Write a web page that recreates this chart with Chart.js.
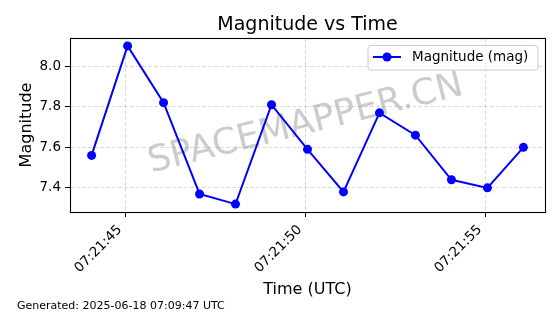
<!DOCTYPE html>
<html>
<head>
<meta charset="utf-8">
<script src="https://cdn.jsdelivr.net/npm/chart.js@4/dist/chart.umd.min.js"></script>
<style>
  html, body { margin: 0; padding: 0; background: #fff; }
  #wrap { width: 560px; height: 314px; position: relative; }
</style>
</head>
<body>
<div id="wrap"><canvas id="myChart" width="560" height="314"></canvas></div>
<script>
// readings
var times = ['07:21:44.045', '07:21:45.045', '07:21:46.045', '07:21:47.045', '07:21:48.045',
             '07:21:49.045', '07:21:50.045', '07:21:51.045', '07:21:52.045', '07:21:53.045',
             '07:21:54.045', '07:21:55.045', '07:21:56.045'];
var magnitudes = [7.56, 8.10, 7.82, 7.37, 7.32, 7.81, 7.59, 7.38, 7.77, 7.66, 7.44, 7.40, 7.60];
var xTickLabels = ['07:21:45', '07:21:50', '07:21:55'];
var yTicks = [7.4, 7.6, 7.8, 8.0];

var FONT = "'DejaVu Sans', sans-serif";

function toSec(s) {
  var p = s.split(':');
  return (+p[0]) * 3600 + (+p[1]) * 60 + parseFloat(p[2]);
}
function fmt(sec) {
  sec = Math.round(sec);
  var h = Math.floor(sec / 3600), m = Math.floor(sec / 60) % 60, s = sec % 60;
  return [h, m, s].map(function (v) { return (v < 10 ? '0' : '') + v; }).join(':');
}

var xs = times.map(toSec);
var xTicks = xTickLabels.map(toSec);
var points = xs.map(function (x, i) { return { x: x, y: magnitudes[i] }; });

// matplotlib style 5% margins
function margins(arr) {
  var lo = Math.min.apply(null, arr), hi = Math.max.apply(null, arr), pad = (hi - lo) * 0.05;
  return [lo - pad, hi + pad];
}
var xr = margins(xs), yr = margins(magnitudes);

var extras = {
  id: 'extras',
  beforeDatasetsDraw: function (chart) {
    var ctx = chart.ctx;
    // watermark
    ctx.save();
    ctx.translate(308, 133.5);
    ctx.rotate(-14 * Math.PI / 180);
    ctx.font = '36px ' + FONT;
    ctx.fillStyle = 'rgba(128,128,128,0.4)';
    ctx.textAlign = 'center';
    ctx.textBaseline = 'alphabetic';
    ctx.fillText('SPACEMAPPER.CN', 0, 0);
    ctx.restore();
  },
  afterDatasetsDraw: function (chart) {
    var ctx = chart.ctx, a = chart.chartArea;
    ctx.save();
    // frame
    ctx.strokeStyle = '#000';
    ctx.lineWidth = 1.1;
    ctx.strokeRect(a.left + 0.5, a.top + 0.5, a.right - a.left, a.bottom - a.top);

    // legend
    var lx = a.right - 177, ly = a.top + 7.5, lw = 170, lh = 24.5;
    ctx.beginPath();
    ctx.roundRect(lx, ly, lw, lh, 3);
    ctx.fillStyle = 'rgba(255,255,255,0.8)';
    ctx.fill();
    ctx.strokeStyle = '#cccccc';
    ctx.lineWidth = 1;
    ctx.stroke();
    var my = ly + 11.5;
    ctx.beginPath();
    ctx.moveTo(lx + 5, my);
    ctx.lineTo(lx + 33, my);
    ctx.strokeStyle = '#0000ff';
    ctx.lineWidth = 2;
    ctx.stroke();
    ctx.beginPath();
    ctx.arc(lx + 19, my, 4.5, 0, Math.PI * 2);
    ctx.fillStyle = '#0000ff';
    ctx.fill();
    ctx.fillStyle = '#000';
    ctx.font = '13.5px ' + FONT;
    ctx.textAlign = 'left';
    ctx.textBaseline = 'middle';
    ctx.fillText('Magnitude (mag)', lx + 44, my + 0.5);

    // titles
    var cx = (a.left + a.right) / 2;
    ctx.textAlign = 'center';
    ctx.textBaseline = 'alphabetic';
    ctx.font = '19px ' + FONT;
    ctx.fillText('Magnitude vs Time', cx, 30);
    ctx.font = '16px ' + FONT;
    ctx.fillText('Time (UTC)', cx, 294);
    ctx.save();
    ctx.translate(31, (a.top + a.bottom) / 2);
    ctx.rotate(-Math.PI / 2);
    ctx.fillText('Magnitude', 0, 0);
    ctx.restore();
    ctx.textAlign = 'left';
    ctx.font = '11px ' + FONT;
    ctx.fillText('Generated: 2025-06-18 07:09:47 UTC', 17, 309);
    ctx.restore();
  }
};

var ctx = document.getElementById('myChart').getContext('2d');
var config = {
  type: 'line',
  data: {
    datasets: [{
      label: 'Magnitude (mag)',
      data: points,
      borderColor: '#0000ff',
      backgroundColor: '#0000ff',
      borderWidth: 2,
      pointRadius: 4.5,
      pointHoverRadius: 4.5,
      pointBorderWidth: 0,
      tension: 0
    }]
  },
  options: {
    responsive: false,
    animation: false,
    events: [],
    layout: { padding: { left: 0, right: 15, top: 38, bottom: 0 } },
    plugins: { legend: { display: false }, title: { display: false }, tooltip: { enabled: false } },
    scales: {
      x: {
        type: 'linear',
        min: xr[0],
        max: xr[1],
        afterBuildTicks: function (scale) {
          scale.ticks = xTicks.map(function (v) { return { value: v }; });
        },
        afterFit: function (scale) { scale.height = 102; },
        ticks: {
          callback: function (v) { return fmt(v); },
          minRotation: 45,
          maxRotation: 45,
          padding: 5,
          labelOffset: -6,
          color: '#000',
          font: { family: FONT, size: 13.5 }
        },
        grid: {
          color: 'rgba(176,176,176,0.6)',
          lineWidth: 0.8,
          tickLength: 5,
          tickColor: '#000',
          tickWidth: 1
        },
        border: { display: false, dash: [4, 2] }
      },
      y: {
        type: 'linear',
        min: yr[0],
        max: yr[1],
        afterBuildTicks: function (scale) {
          scale.ticks = yTicks.map(function (v) { return { value: v }; });
        },
        afterFit: function (scale) { scale.width = 70; },
        ticks: {
          callback: function (v) { return v.toFixed(1); },
          padding: 4,
          color: '#000',
          font: { family: FONT, size: 13.5 }
        },
        grid: {
          color: 'rgba(176,176,176,0.6)',
          lineWidth: 0.8,
          tickLength: 5,
          tickColor: '#000',
          tickWidth: 1
        },
        border: { display: false, dash: [4, 2] }
      }
    }
  },
  plugins: [extras]
};

var myChart = new Chart(ctx, config);
</script>
</body>
</html>
